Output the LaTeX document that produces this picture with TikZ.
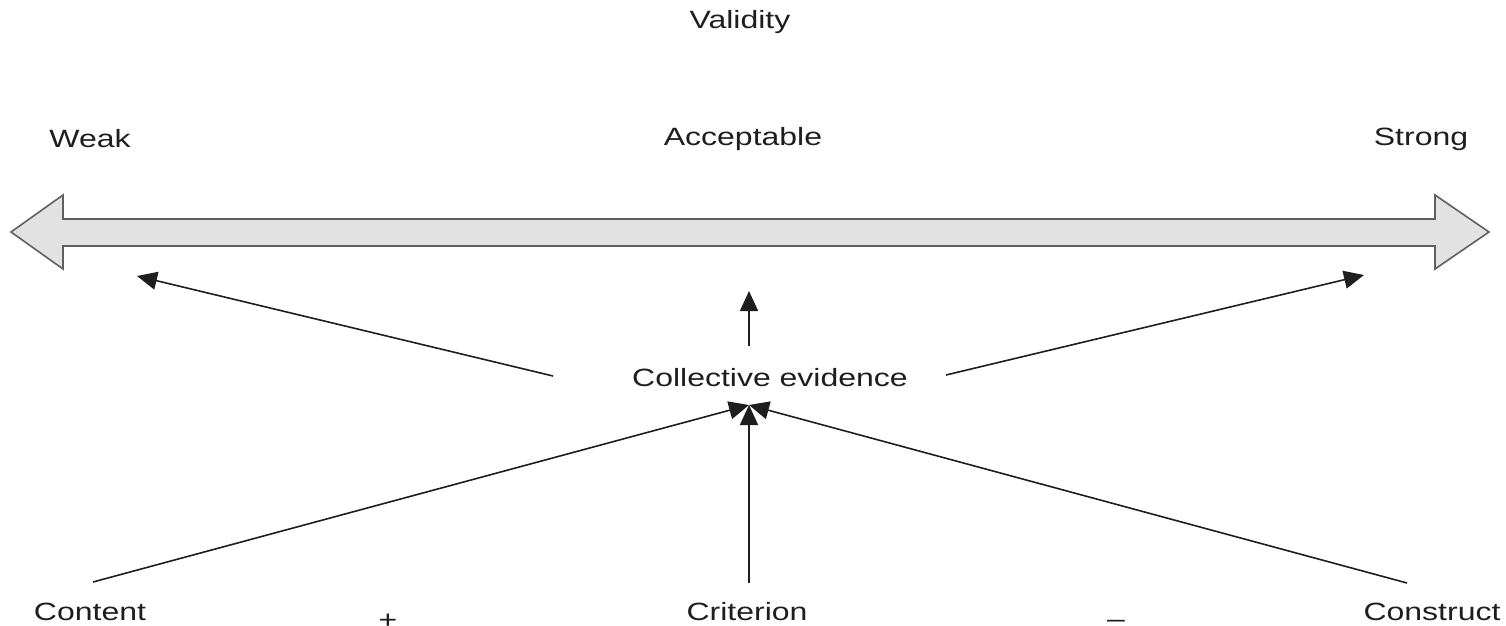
\documentclass[tikz,border=0pt]{standalone}
\usepackage{fontspec}
\setmainfont{Liberation Sans}
\usetikzlibrary{arrows.meta}
\definecolor{ink}{HTML}{1E1E1E}
\definecolor{bandfill}{HTML}{E2E2E2}
\definecolor{bandline}{HTML}{606060}
\begin{document}
\begin{tikzpicture}[x=0.5pt,y=-0.5pt,
  lbl/.style={font=\fontsize{12.5pt}{14pt}\selectfont, text=ink, inner sep=0pt, xscale=1.28},
  link/.style={draw=ink, line width=0.8pt, -{Triangle[length=10pt,width=9pt]}}]
  \useasboundingbox (0,0) rectangle (1506,626);

  % double-headed scale band
  \draw[fill=bandfill, draw=bandline, line width=0.8pt, line join=miter]
    (11,232) -- (63,195) -- (63,219) -- (1435,219) -- (1435,195) -- (1489,232)
    -- (1435,269) -- (1435,246) -- (63,246) -- (63,269) -- cycle;

  % labels
  \node[lbl] (validity) at (740,22) {Validity};
  \node[lbl] (weak) at (90,139) {Weak};
  \node[lbl] (acceptable) at (743,139) {Acceptable};
  \node[lbl] (strong) at (1421,139) {Strong};
  \node[lbl] (evidence) at (770,378) {Collective evidence};
  \node[lbl] (content) at (90,612) {Content};
  \node[lbl] (criterion) at (747,612) {Criterion};
  \node[lbl] (construct) at (1432,612) {Construct};
  \node[lbl] (plus) at (388,621) {+};
  \node[lbl] (minus) at (1116,624) {–};

  % connector end points
  \coordinate (weakEnd) at (137,276);
  \coordinate (accEnd) at (749,291);
  \coordinate (strongEnd) at (1364,275);
  \coordinate (evL) at (553,376);
  \coordinate (evT) at (749,346);
  \coordinate (evR) at (946,375);
  \coordinate (hub) at (749,405);
  \coordinate (contentTop) at (93,582);
  \coordinate (criterionTop) at (749,583);
  \coordinate (constructTop) at (1407,583);

  % evidence towards the scale
  \draw[link] (evL) -- (weakEnd);
  \draw[link] (evT) -- (accEnd);
  \draw[link] (evR) -- (strongEnd);

  % sources feeding the collective evidence
  \draw[link] (contentTop) -- (hub);
  \draw[link] (criterionTop) -- (hub);
  \draw[link] (constructTop) -- (hub);
\end{tikzpicture}
\end{document}
